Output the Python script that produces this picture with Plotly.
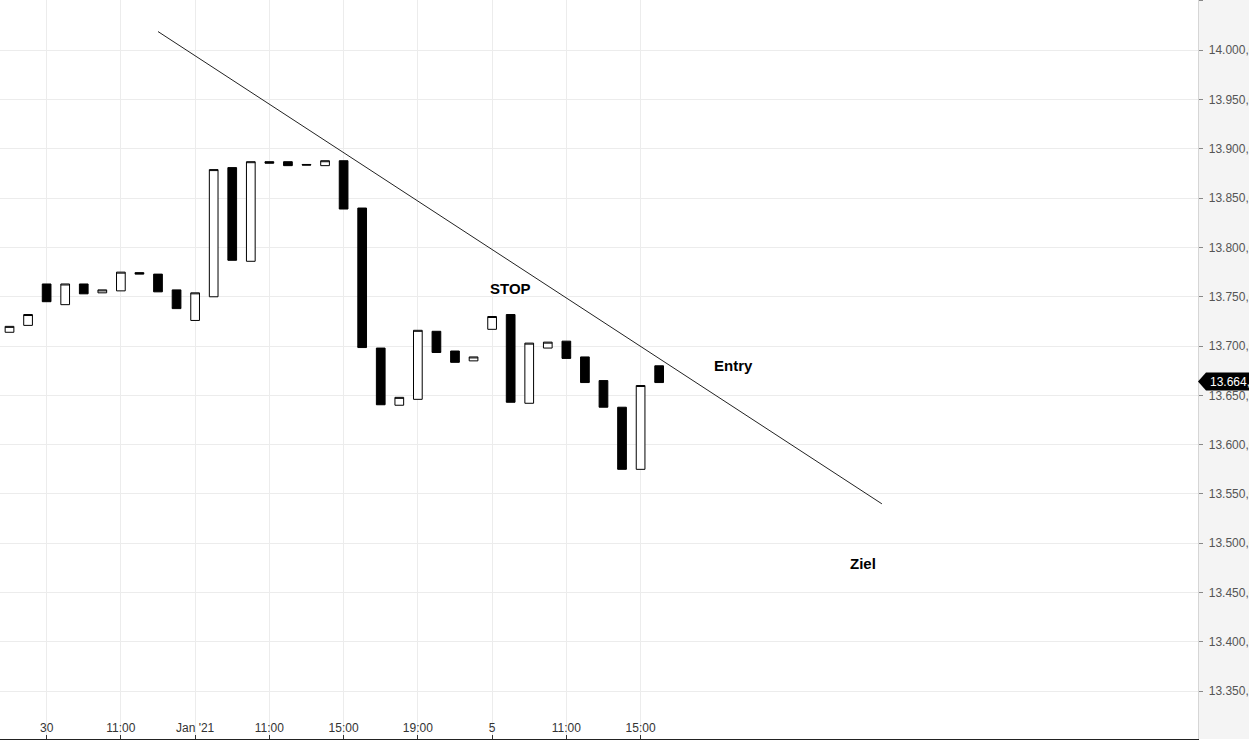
import plotly.graph_objects as go

# hourly bars, index 0..35
bar_idx = list(range(36))
opens = [13714, 13721, 13763, 13742, 13763, 13754, 13756, 13774.5, 13773, 13757,
         13726, 13750, 13881, 13786, 13887, 13887, 13884.2, 13883, 13888, 13840,
         13698, 13640, 13646, 13715, 13695, 13685, 13717, 13732, 13642, 13698,
         13705, 13689, 13665, 13638, 13575, 13680]
closes = [13720, 13732, 13745, 13763, 13753, 13757, 13775, 13773, 13755, 13738,
          13754, 13879, 13787, 13887, 13885.5, 13883, 13883.6, 13888, 13839, 13698.5,
          13640.5, 13648, 13716, 13693.5, 13683.5, 13689, 13730, 13643, 13703, 13704,
          13687.5, 13663, 13638, 13575, 13660, 13663]
highs = [max(o, c) for o, c in zip(opens, closes)]
lows = [min(o, c) for o, c in zip(opens, closes)]

tick_pos = [2, 6, 10, 14, 18, 22, 26, 30, 34]
tick_labels = ["30", "11:00", "Jan '21", "11:00", "15:00", "19:00", "5", "11:00", "15:00"]

price_ticks = list(range(13350, 14051, 50))
price_labels = ["{:,}".format(p).replace(",", ".") + ",00" for p in price_ticks]

# trend line and labels drawn on the chart
trend_x = [8, 47]
trend_y = [14019, 13540]
note_text = ["STOP", "Entry", "Ziel"]
note_x = [27, 39, 46]
note_y = [13758, 13680, 13480]
last_price = 13664

fig = go.Figure()

fig.add_trace(go.Candlestick(
    x=bar_idx, open=opens, high=highs, low=lows, close=closes,
    increasing=dict(fillcolor="white", line=dict(color="black", width=1)),
    decreasing=dict(fillcolor="black", line=dict(color="black", width=1)),
    whiskerwidth=0,
    showlegend=False,
))

fig.add_trace(go.Scatter(
    x=trend_x, y=trend_y, mode="lines",
    line=dict(color="#222222", width=1),
    showlegend=False, hoverinfo="skip",
))

for t, xx, yy in zip(note_text, note_x, note_y):
    fig.add_annotation(x=xx, y=yy, text="<b>" + t + "</b>", showarrow=False,
                       font=dict(size=15, color="black", family="Liberation Sans, Arial"))

# grey strip behind the price axis
fig.add_shape(type="rect", xref="paper", yref="paper", x0=1, x1=1.1, y0=0, y1=1,
              fillcolor="#f4f4f4", line_width=0, layer="below")

# last price marker
fig.add_shape(type="path", xref="paper", yref="y", xsizemode="pixel", ysizemode="pixel",
              xanchor=1, yanchor=last_price,
              path="M 0 0 L 8 9 L 60 9 L 60 -9 L 8 -9 Z",
              fillcolor="black", line_width=0)
fig.add_annotation(xref="paper", x=1, y=last_price, xanchor="left", xshift=10,
                   text="13.664,00", showarrow=False,
                   font=dict(size=12, color="white", family="Liberation Sans, Arial"))

fig.update_layout(
    width=1249, height=740,
    margin=dict(l=0, r=51, t=0, b=1),
    paper_bgcolor="white", plot_bgcolor="white",
    boxgap=0.33,
    font=dict(family="Liberation Sans, Arial", size=12, color="#444444"),
)

fig.update_xaxes(
    range=[-0.512, 64.03], rangeslider_visible=False,
    tickvals=tick_pos, ticktext=tick_labels,
    ticks="inside", ticklen=4, tickcolor="#333333",
    ticklabelposition="inside", tickfont=dict(size=12, color="#333333"),
    showgrid=True, gridcolor="#ececec", gridwidth=1,
    showline=True, linecolor="#222222", linewidth=2,
    zeroline=False,
)

fig.update_yaxes(
    side="right", range=[13301.5, 14051],
    tickvals=price_ticks, ticktext=[" " + s for s in price_labels],
    ticks="outside", ticklen=4, tickcolor="#888888",
    tickfont=dict(size=12, color="#555555"),
    showgrid=True, gridcolor="#ececec", gridwidth=1,
    showline=True, linecolor="#d6d6d6", linewidth=1,
    zeroline=False, automargin=False,
)

fig.write_html("out.html", config={"displayModeBar": False},
               post_script="document.body.style.margin='0';")
